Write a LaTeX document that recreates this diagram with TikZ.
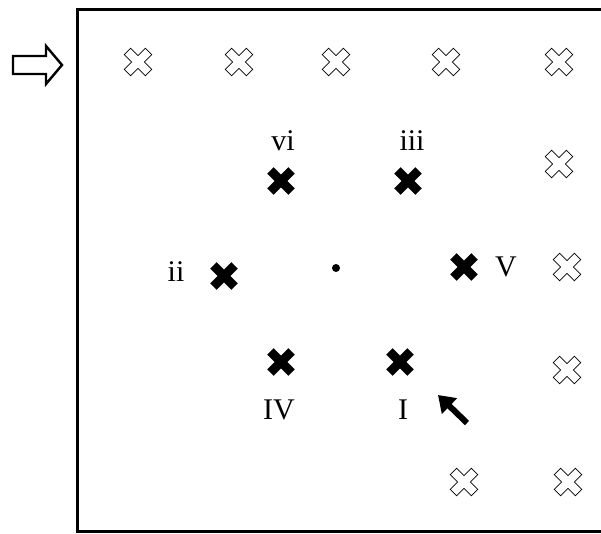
\documentclass[tikz,border=0pt]{standalone}
\usepackage{fontspec}
\setmainfont{Liberation Serif}
\usetikzlibrary{arrows.meta}
\tikzset{
  crossline/.style={insert path={++(-7.42,13.79) -- ++(7.42,-7.43) -- ++(7.42,7.43) -- ++(6.37,-6.37) -- ++(-7.43,-7.42) -- ++(7.43,-7.42) -- ++(-6.37,-6.37) -- ++(-7.42,7.43) -- ++(-7.42,-7.43) -- ++(-6.37,6.37) -- ++(7.43,7.42) -- ++(-7.43,7.42) -- cycle}},
  ocross/.style={minimum size=32pt, inner sep=0pt, path picture={
      \draw[line width=0.7pt, line join=miter] (path picture bounding box.center) [crossline];}},
  fcross/.style={minimum size=32pt, inner sep=0pt, path picture={
      \fill (path picture bounding box.center) [crossline];}},
  lbl/.style={inner sep=0pt, font=\fontsize{30}{34}\selectfont},
  frame/.style={line width=3pt},
}
\begin{document}
\begin{tikzpicture}[x=1pt,y=-1pt]
\useasboundingbox (0,0) rectangle (601,534);
% frame
\draw[frame] (601,10) -- (77,10) -- (77,531) -- (601,531);
% hollow arrow
\draw[line width=2.4pt, line join=miter] (13,56) -- (46,56) -- (46,46) -- (62,65) -- (46,84) -- (46,74) -- (13,74) -- cycle;
% outline crosses
\node[ocross] (o1) at (138,62) {};
\node[ocross] (o2) at (239,62) {};
\node[ocross] (o3) at (336,62) {};
\node[ocross] (o4) at (446,62) {};
\node[ocross] (o5) at (559,62) {};
\node[ocross] (o6) at (559,164) {};
\node[ocross] (o7) at (567,267) {};
\node[ocross] (o8) at (567,370) {};
\node[ocross] (o9) at (464,482) {};
\node[ocross] (o10) at (568,482) {};
% filled crosses
\node[fcross] (vi) at (281,181) {};
\node[fcross] (iii) at (408,181) {};
\node[fcross] (ii) at (224,276) {};
\node[fcross] (V) at (464,267) {};
\node[fcross] (IV) at (281,362) {};
\node[fcross] (I) at (400,362) {};
% labels
\node[lbl] (lvi) at (283,141) {vi};
\node[lbl] (liii) at (412,141) {iii};
\node[lbl] (lii) at (176,272) {ii};
\node[lbl] (lV) at (506,267) {V};
\node[lbl] (lIV) at (279,410) {IV};
\node[lbl] (lI) at (403,410) {I};
% centre dot
\node[circle, fill, inner sep=0pt, minimum size=8pt] (dot) at (336,268) {};
% black arrow
\coordinate (atail) at (467,423);
\coordinate (atip) at (438,395);
\draw[line width=6pt, -{Triangle[length=16pt,width=21pt]}] (atail) -- (atip);
\end{tikzpicture}
\end{document}
